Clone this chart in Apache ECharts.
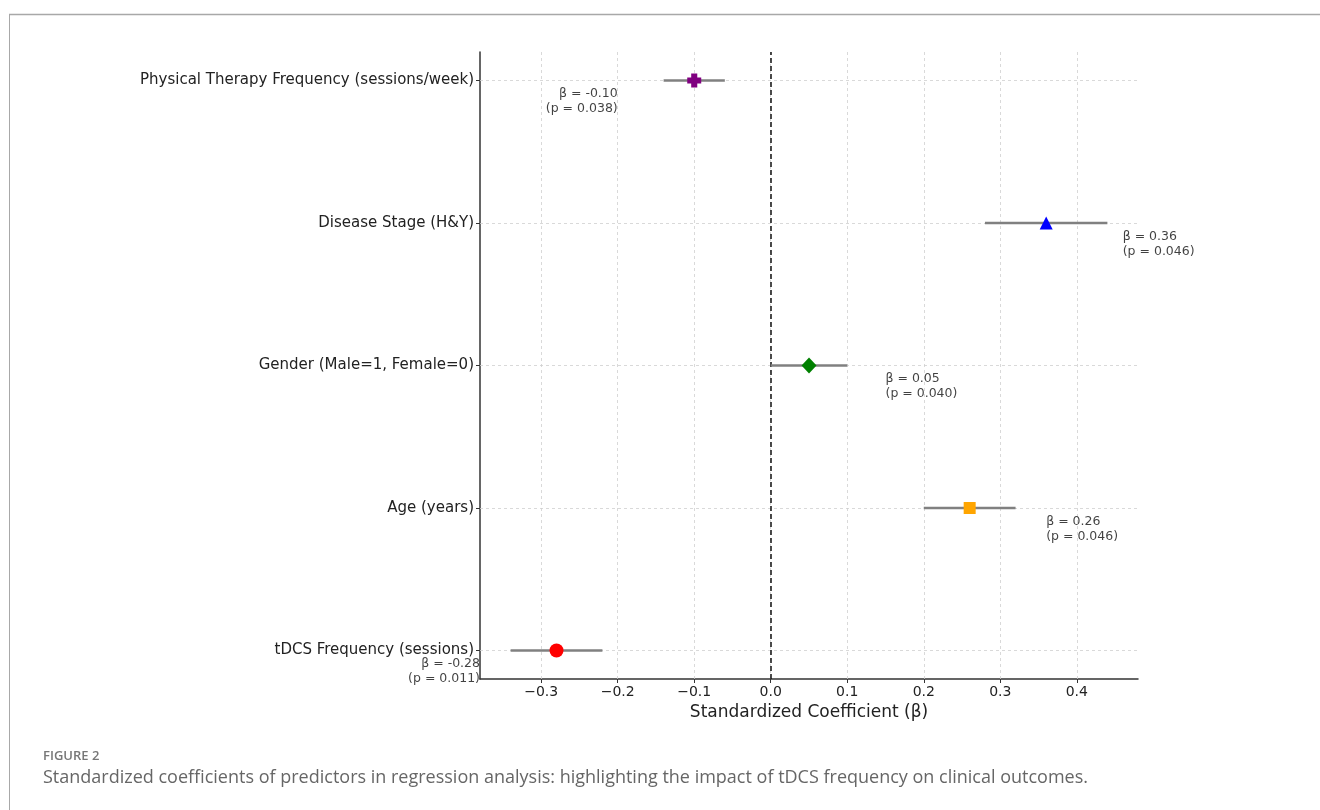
<!DOCTYPE html>
<html>
<head>
<meta charset="utf-8">
<script src="https://cdn.jsdelivr.net/npm/echarts@6/dist/echarts.min.js"></script>
<style>html,body{margin:0;padding:0;background:#fff}#c{width:1320px;height:810px}</style>
</head>
<body>
<div id="c"></div>
<script>
// ---- data ----
const predictors = ['tDCS Frequency (sessions)', 'Age (years)', 'Gender (Male=1, Female=0)', 'Disease Stage (H&Y)', 'Physical Therapy Frequency (sessions/week)'];
const betas = [-0.28, 0.26, 0.05, 0.36, -0.10];
const ciLow = [-0.34, 0.20, 0.00, 0.28, -0.14];
const ciHigh = [-0.22, 0.32, 0.10, 0.44, -0.06];
const pValues = ['0.011', '0.046', '0.040', '0.046', '0.038'];
const xTicks = [-0.3, -0.2, -0.1, 0.0, 0.1, 0.2, 0.3, 0.4];
const markerColors = ['#ff0000', '#ffa500', '#008000', '#0000ff', '#800080'];
const markerSymbols = ['circle', 'rect', 'diamond', 'triangle', 'path://M-1.3,-3 L1.3,-3 L1.3,-1.3 L3,-1.3 L3,1.3 L1.3,1.3 L1.3,3 L-1.3,3 L-1.3,1.3 L-3,1.3 L-3,-1.3 L-1.3,-1.3 Z'];
const markerSizes = [14, 12, [15, 16], 13, 14];
const annotOffset = 0.1;

const chart = echarts.init(document.getElementById('c'));
const fmtX = v => (v < 0 ? '\u2212' : '') + Math.abs(v).toFixed(1);
const yIdx = predictors.map((_, i) => i);

const series = [];
// grid lines
series.push({
  type: 'line', data: [], silent: true, z: 1,
  markLine: {
    silent: true, symbol: 'none', label: {show: false}, animation: false, z: 1,
    lineStyle: {color: '#d0d0d0', type: [3, 3], width: 0.8},
    data: xTicks.map(v => ({xAxis: v})).concat(yIdx.map(i => ({yAxis: i})))
  }
});
// zero line
series.push({
  type: 'line', data: [], silent: true, z: 2,
  markLine: {
    silent: true, symbol: 'none', label: {show: false}, animation: false, z: 2,
    lineStyle: {color: '#111', type: [5, 3], width: 1.5},
    data: [{xAxis: 0}]
  }
});
// error bars
series.push({
  type: 'custom', z: 8,
  data: yIdx.map(i => [ciLow[i], ciHigh[i], i]),
  renderItem: (params, api) => {
    const a = api.coord([api.value(0), api.value(2)]);
    const b = api.coord([api.value(1), api.value(2)]);
    return {type: 'line', shape: {x1: a[0], y1: a[1], x2: b[0], y2: b[1]},
      style: {stroke: '#808080', lineWidth: 2.5}};
  },
  encode: {x: [0, 1], y: 2}
});
// markers
yIdx.forEach(i => {
  series.push({
    type: 'scatter', z: 10, symbol: markerSymbols[i], symbolSize: markerSizes[i],
    itemStyle: {color: markerColors[i], opacity: 1},
    data: [[betas[i], i]]
  });
});
// annotations
series.push({
  type: 'scatter', z: 12, symbolSize: 1, itemStyle: {color: 'rgba(0,0,0,0)'}, silent: true,
  data: yIdx.map(i => ({
    value: [betas[i] + (betas[i] < 0 ? -annotOffset : annotOffset), i],
    label: {align: betas[i] < 0 ? 'right' : 'left'}
  })),
  label: {
    show: true, position: 'inside', verticalAlign: 'top', offset: [0, 6],
    fontFamily: 'DejaVu Sans', fontSize: 12.5, lineHeight: 15, color: '#111',
    formatter: p => {
      const i = p.value[1];
      return '\u03b2 = ' + betas[i].toFixed(2) + '\n(p = ' + pValues[i] + ')';
    }
  }
});

chart.setOption({
  animation: false,
  backgroundColor: '#fff',
  grid: {left: 480, top: 52, right: 182, bottom: 131, containLabel: false},
  xAxis: {
    type: 'value', min: -0.38, max: 0.48,
    axisLine: {onZero: false, lineStyle: {color: '#333', width: 1.5}},
    axisTick: {show: true, length: 4, customValues: xTicks, lineStyle: {color: '#333'}},
    axisLabel: {customValues: xTicks, formatter: fmtX, fontFamily: 'DejaVu Sans', fontSize: 14, color: '#222', margin: 6},
    splitLine: {show: false},
    name: 'Standardized Coefficient (\u03b2)', nameLocation: 'middle', nameGap: 22,
    nameTextStyle: {fontFamily: 'DejaVu Sans', fontSize: 17, color: '#222'}
  },
  yAxis: {
    type: 'value', min: -0.2, max: 4.2,
    axisLine: {show: true, onZero: false, lineStyle: {color: '#333', width: 1.5}},
    axisTick: {show: true, length: 4, customValues: yIdx, lineStyle: {color: '#333'}},
    axisLabel: {customValues: yIdx, formatter: v => predictors[Math.round(v)] || '', fontFamily: 'DejaVu Sans', fontSize: 15, color: '#222', margin: 6, padding: [3, 0, 0, 0]},
    splitLine: {show: false}
  },
  graphic: [
    {type: 'line', shape: {x1: 9, y1: 14.5, x2: 1320, y2: 14.5}, style: {stroke: '#a8a8a8', lineWidth: 1.5}},
    {type: 'line', shape: {x1: 9.5, y1: 14, x2: 9.5, y2: 810}, style: {stroke: '#a8a8a8', lineWidth: 1}},
    {type: 'text', left: 43, top: 750, style: {text: 'FIGURE 2', fontFamily: 'Open Sans', fontWeight: 600, fontSize: 13, fill: '#777'}},
    {type: 'text', left: 43, top: 769, style: {text: 'Standardized coefficients of predictors in regression analysis: highlighting the impact of tDCS frequency on clinical outcomes.', fontFamily: 'Open Sans', fontSize: 18, fill: '#666'}}
  ],
  series: series
});
</script>
</body>
</html>
